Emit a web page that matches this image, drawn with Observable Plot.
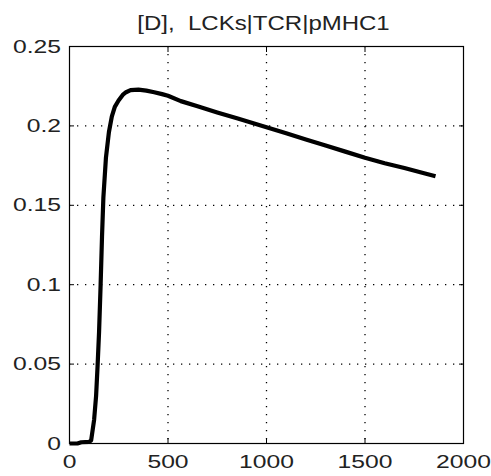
<!DOCTYPE html>
<html>
<head>
<meta charset="utf-8">
<script src="https://cdn.jsdelivr.net/npm/d3@7"></script>
<script src="https://cdn.jsdelivr.net/npm/@observablehq/plot@0.6"></script>
<style>
  html, body { margin: 0; padding: 0; background: #fff; }
  #chart svg { display: block; background: #fff; }
</style>
</head>
<body>
<div id="chart"></div>
<script>
const titleText = "[D],  LCKs|TCR|pMHC1";
const timeValues = [0, 40, 60, 100, 110, 125, 135, 143, 150, 158, 165, 172, 185, 200, 215, 230, 249, 270, 287, 310, 350, 390, 430, 470, 500, 565, 650, 750, 850, 1000, 1100, 1200, 1300, 1400, 1500, 1600, 1700, 1800, 1858];
const lckValues  = [0, 0, 0.0008, 0.001, 0.002, 0.015, 0.03, 0.05, 0.07, 0.1, 0.13, 0.155, 0.18, 0.196, 0.206, 0.212, 0.216, 0.2195, 0.2212, 0.2225, 0.2228, 0.2222, 0.2212, 0.22, 0.219, 0.2156, 0.2123, 0.2085, 0.2048, 0.1992, 0.1953, 0.1915, 0.1876, 0.1838, 0.1799, 0.1765, 0.1735, 0.1702, 0.1683];
const xTicks = [0, 500, 1000, 1500, 2000];
const yTicks = [0, 0.05, 0.1, 0.15, 0.2, 0.25];
const xGrid = [500, 1000, 1500];
const yGrid = [0.05, 0.1, 0.15, 0.2];

const data = timeValues.map((t, i) => ({t, v: lckValues[i]}));
const fmtY = d => d === 0 ? "0" : String(d);

const plot = Plot.plot({
  width: 491,
  height: 476,
  marginLeft: 69,
  marginRight: 28,
  marginTop: 46,
  marginBottom: 33,
  style: {fontFamily: "Liberation Sans, Arial, sans-serif", fontSize: "19px", color: "#000", background: "#fff"},
  x: {domain: [0, 2000], label: null},
  y: {domain: [0, 0.25], label: null},
  marks: [
    Plot.gridX(xGrid, {stroke: "#000", strokeOpacity: 1, strokeDasharray: "1.3,6.7", strokeWidth: 1.3}),
    Plot.gridY(yGrid, {stroke: "#000", strokeOpacity: 1, strokeDasharray: "1.3,6.7", strokeWidth: 1.3}),
    Plot.axisX(xTicks, {anchor: "bottom", tickSize: 5, dy: -5, tickFormat: () => "", stroke: "#000", label: null}),
    Plot.axisX(xTicks, {anchor: "top", tickSize: 5, dy: 5, tickFormat: () => "", stroke: "#000", label: null}),
    Plot.axisY(yTicks, {anchor: "left", tickSize: 5, dx: 5, tickFormat: () => "", stroke: "#000", label: null}),
    Plot.axisY(yTicks, {anchor: "right", tickSize: 5, dx: -5, tickFormat: () => "", stroke: "#000", label: null}),
    Plot.axisX(xTicks, {anchor: "bottom", tickSize: 0, tickPadding: 11, tickFormat: d => String(d), fill: "#222", label: null}),
    Plot.axisY(yTicks, {anchor: "left", tickSize: 0, tickPadding: 8.5, tickFormat: fmtY, fill: "#222", label: null}),
    Plot.frame({stroke: "#000", strokeWidth: 1.2}),
    Plot.line(data, {x: "t", y: "v", stroke: "#000", strokeWidth: 4.2, strokeLinejoin: "round", strokeLinecap: "butt"}),
    Plot.text([titleText], {frameAnchor: "top", lineAnchor: "bottom", dy: -17, dx: -3, text: d => d, fontSize: 20, fill: "#222"})
  ]
});

document.getElementById("chart").appendChild(plot);

// MATLAB-style wide glyphs: stretch text horizontally
plot.querySelectorAll('g[aria-label="x-axis tick label"] text, g[aria-label="y-axis tick label"] text').forEach(t => {
  const tr = t.getAttribute("transform") || "";
  t.setAttribute("transform", tr + " scale(1.3,1)");
});
plot.querySelectorAll('g[aria-label="text"] text').forEach(t => {
  const tr = t.getAttribute("transform") || "";
  t.setAttribute("transform", tr + " scale(1.2,1)");
});
</script>
</body>
</html>
